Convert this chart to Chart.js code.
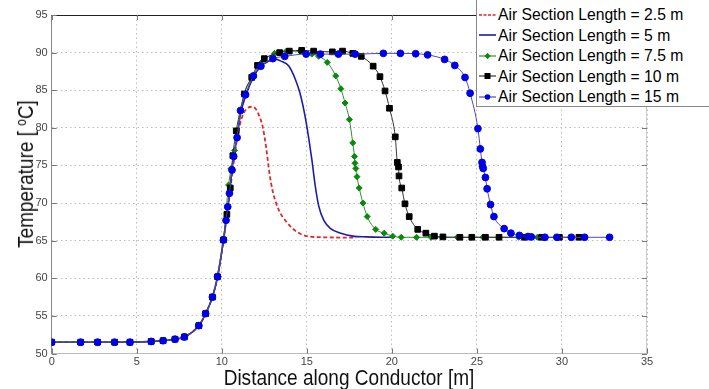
<!DOCTYPE html>
<html>
<head>
<meta charset="utf-8">
<script src="https://cdn.jsdelivr.net/npm/chart.js@4"></script>
<style>
  html, body { margin: 0; padding: 0; background: #fff; overflow: hidden; }
  #wrap { position: relative; width: 709px; height: 389px; overflow: hidden; }
  #chart { position: absolute; left: 0; top: 0; }
  .axtitle { position: absolute; font-family: "Liberation Sans", Arial, sans-serif; font-size: 22px; color: #111; white-space: nowrap; line-height: 22px; }
  #xtitle { left: 349px; top: 367px; transform: translateX(-50%) scaleX(0.865); }
  #ytitle { left: 26px; top: 174px; transform: translate(-50%, -50%) rotate(-90deg) scaleX(0.86); }
  #ytitle sup { font-size: 14px; vertical-align: 7px; line-height: 0; }
  #legend { position: absolute; left: 476px; top: -1px; width: 250px; height: 108px; border: 1px solid #888; background: #fff;
            font-family: "Liberation Sans", Arial, sans-serif; font-size: 15.7px; color: #000; box-sizing: border-box; padding-top: 5px; }
  #legend .row { height: 20.5px; line-height: 20.5px; white-space: nowrap; }
  #legend svg { vertical-align: middle; margin-left: 2px; margin-right: 2px; position: relative; top: -1px; }
</style>
</head>
<body>
<div id="wrap">
  <canvas id="chart" width="709" height="389"></canvas>
  <div id="ytitle" class="axtitle">Temperature [ <sup>o</sup>C]</div>
  <div id="xtitle" class="axtitle">Distance along Conductor [m]</div>
  <div id="legend"></div>
</div>
<script>
// distance along conductor [m] and temperature [degC]
const x25 = [0, 2, 4, 5.8, 7.25, 7.8, 8.65, 9.05, 9.45, 9.75, 10.1, 10.45, 10.65, 10.85, 11.05, 11.3, 11.5, 11.75, 12.0, 12.2, 12.4, 12.6, 12.8, 13.0, 13.35, 13.8, 14.4, 15.0, 16.0, 17.9]
const t25 = [51.5, 51.5, 51.5, 51.6, 51.9, 52.2, 53.7, 55.3, 57.5, 60.2, 65.0, 71.0, 74.5, 77.8, 80.3, 82.0, 82.6, 82.8, 82.5, 81.6, 80.2, 77.5, 74.0, 71.5, 69.1, 67.5, 66.2, 65.6, 65.45, 65.4]

const x5 = [0, 2, 4, 5.8, 7.25, 7.8, 8.65, 9.05, 9.45, 9.75, 10.1, 10.45, 10.7, 10.9, 11.1, 11.4, 11.85, 12.3, 12.7, 13.2, 13.45, 13.95, 14.3, 14.6, 14.9, 15.1, 15.3, 15.5, 15.7, 16.0, 16.4, 17.0, 17.7, 18.5, 20.0]
const t5 = [51.5, 51.5, 51.5, 51.6, 51.9, 52.2, 53.7, 55.3, 57.5, 60.2, 65.1, 71.3, 76.2, 78.7, 81.8, 84.2, 86.7, 88.2, 88.8, 89.1, 88.9, 88.2, 86.6, 84.6, 81.5, 78.8, 75.7, 72.2, 69.6, 67.7, 66.6, 66.0, 65.6, 65.5, 65.45]

const x75 = [0, 1.7, 2.7, 3.7, 4.6, 5.85, 6.55, 7.25, 7.8, 8.65, 9.05, 9.45, 9.75, 10.1, 10.4, 10.55, 10.75, 11.3, 11.8, 12.3, 13.1, 13.8, 14.6, 15.3, 15.7, 16.2, 16.7, 17.0, 17.25, 17.5, 17.7, 17.8, 17.83, 17.88, 17.95, 18.08, 18.3, 18.55, 19.05, 19.55, 20.05, 20.55, 21.45, 22.3, 23.85, 25.35, 27.45, 28.55]
const t75 = [51.5, 51.5, 51.5, 51.5, 51.5, 51.6, 51.7, 51.9, 52.2, 53.7, 55.3, 57.5, 60.2, 65.1, 72.4, 74.6, 77.0, 84.4, 86.8, 88.6, 89.9, 90.2, 90.2, 89.8, 89.5, 88.7, 86.9, 85.2, 83.3, 81.1, 78.0, 76.2, 75.3, 74.6, 73.5, 72.0, 70.0, 68.2, 66.5, 66.0, 65.6, 65.45, 65.45, 65.45, 65.45, 65.45, 65.45, 65.45]

const x10 = [0, 1.7, 2.7, 3.7, 4.6, 5.85, 6.55, 7.25, 7.8, 8.65, 9.05, 9.45, 9.75, 10.1, 10.3, 10.5, 10.65, 10.85, 11.33, 11.76, 12.1, 12.5, 13.4, 13.97, 14.7, 15.4, 16.5, 17.1, 17.7, 18.2, 18.9, 19.3, 19.6, 19.86, 20.2, 20.32, 20.39, 20.42, 20.58, 20.77, 21.02, 21.52, 22.0, 22.5, 23.0, 24.0, 24.7, 25.5, 26.3, 27.8, 28.8, 29.85, 31.0]
const t10 = [51.5, 51.5, 51.5, 51.5, 51.5, 51.6, 51.7, 51.9, 52.2, 53.7, 55.3, 57.5, 60.2, 65.1, 68.5, 72.0, 76.3, 79.6, 84.5, 86.7, 88.3, 89.2, 90.0, 90.2, 90.3, 90.2, 90.1, 90.2, 89.9, 89.5, 88.2, 86.8, 84.9, 82.6, 78.8, 75.4, 74.8, 73.6, 72.0, 69.9, 68.2, 66.5, 66.0, 65.6, 65.5, 65.45, 65.45, 65.45, 65.45, 65.45, 65.45, 65.45, 65.45]

const x15 = [0, 1.7, 2.7, 3.7, 4.6, 5.85, 6.55, 7.25, 7.8, 8.65, 9.05, 9.45, 9.75, 10.1, 10.25, 10.35, 10.45, 10.6, 10.7, 10.9, 11.1, 11.4, 11.86, 12.3, 13.0, 13.7, 14.96, 15.8, 16.86, 17.84, 19.5, 20.5, 21.4, 22.1, 23.1, 23.7, 24.3, 24.6, 25.06, 25.2, 25.3, 25.33, 25.37, 25.5, 25.6, 25.8, 26.0, 26.6, 27.0, 27.5, 28.0, 28.2, 29.0, 29.7, 30.55, 31.33, 32.8]
const t15 = [51.5, 51.5, 51.5, 51.5, 51.5, 51.6, 51.7, 51.9, 52.2, 53.7, 55.3, 57.5, 60.2, 65.1, 67.7, 69.5, 71.3, 74.4, 76.2, 78.7, 82.3, 84.4, 86.9, 88.2, 89.2, 89.5, 89.8, 89.8, 89.8, 89.8, 89.9, 89.9, 89.85, 89.7, 89.1, 88.3, 86.7, 84.6, 79.9, 77.2, 75.4, 74.9, 74.6, 73.4, 71.9, 69.8, 68.2, 66.6, 66.0, 65.7, 65.55, 65.5, 65.45, 65.45, 65.45, 65.45, 65.45]

const labels = ["Air Section Length = 2.5 m", "Air Section Length = 5 m", "Air Section Length = 7.5 m", "Air Section Length = 10 m", "Air Section Length = 15 m"]
const xTicks = [0, 5, 10, 15, 20, 25, 30, 35]
const yTicks = [50, 55, 60, 65, 70, 75, 80, 85, 90, 95]

function pts(xs, ys) { return xs.map((v, i) => ({x: v, y: ys[i]})) }

const series = [
  {label: labels[0], data: pts(x25, t25), borderColor: "#e02a2a", borderWidth: 1.8, borderDash: [4, 2.5], pointRadius: 0, pointStyle: false, order: 5, mk: null},
  {label: labels[1], data: pts(x5, t5), borderColor: "#1c1ca6", borderWidth: 1.6, pointRadius: 0, pointStyle: false, order: 4, mk: null},
  {label: labels[2], data: pts(x75, t75), borderColor: "#2f8f2f", borderWidth: 1, pointStyle: "rectRot", pointRadius: 3, backgroundColor: "#0a8a0a", pointBorderColor: "#0a8a0a", order: 3, mk: "diamond"},
  {label: labels[3], data: pts(x10, t10), borderColor: "#333", borderWidth: 1, pointStyle: "rect", pointRadius: 4, backgroundColor: "#000", pointBorderColor: "#000", order: 2, mk: "square"},
  {label: labels[4], data: pts(x15, t15), borderColor: "#4a4ab8", borderWidth: 1, pointStyle: "circle", pointRadius: 3.4, backgroundColor: "#0000e6", pointBorderColor: "#0000e6", order: 1, mk: "circle"}
]

// legend (html so the text stays text)
const leg = document.getElementById("legend")
series.forEach(s => {
  let svg = '<svg width="17" height="10" viewBox="0 0 17 10">'
  const dash = s.borderDash ? ' stroke-dasharray="3,1.5"' : ''
  svg += `<line x1="0" y1="5" x2="17" y2="5" stroke="${s.borderColor}" stroke-width="${s.borderWidth > 1 ? 1.6 : 1.2}"${dash}/>`
  if (s.mk == "circle") svg += `<circle cx="8.5" cy="5" r="2.8" fill="${s.backgroundColor}"/>`
  if (s.mk == "square") svg += `<rect x="5.5" y="2" width="6" height="6" fill="#000"/>`
  if (s.mk == "diamond") svg += `<polygon points="8.5,1.8 11.5,5 8.5,8.2 5.5,5" fill="${s.backgroundColor}"/>`
  svg += '</svg>'
  const row = document.createElement("div")
  row.className = "row"
  row.innerHTML = svg + s.label
  leg.appendChild(row)
})

const frame = {
  id: "frame",
  afterDraw(chart) {
    const {ctx, chartArea: a, scales} = chart
    ctx.save()
    ctx.lineWidth = 1
    // top edge dark, right edge faint
    ctx.strokeStyle = "#222"
    ctx.beginPath(); ctx.moveTo(a.left, a.top + 0.5); ctx.lineTo(a.right, a.top + 0.5); ctx.stroke()
    ctx.strokeStyle = "#ccc"
    ctx.beginPath(); ctx.moveTo(a.right - 0.5, a.top); ctx.lineTo(a.right - 0.5, a.bottom); ctx.stroke()
    // inward tick marks
    ctx.strokeStyle = "#777"
    ctx.beginPath()
    xTicks.forEach(v => {
      const p = Math.round(scales.x.getPixelForValue(v)) + 0.5
      ctx.moveTo(p, a.bottom); ctx.lineTo(p, a.bottom - 5)
      ctx.moveTo(p, a.top); ctx.lineTo(p, a.top + 5)
    })
    yTicks.forEach(v => {
      const p = Math.round(scales.y.getPixelForValue(v)) + 0.5
      ctx.moveTo(a.left, p); ctx.lineTo(a.left + 5, p)
      ctx.moveTo(a.right, p); ctx.lineTo(a.right - 5, p)
    })
    ctx.stroke()
    ctx.restore()
  }
}

const tickFont = {family: "'Liberation Sans', Arial, sans-serif", size: 11}

new Chart(document.getElementById("chart"), {
  type: "line",
  data: {datasets: series},
  options: {
    responsive: false,
    animation: false,
    devicePixelRatio: 1,
    layout: {padding: {left: 0, right: 62, top: 15, bottom: 0}},
    elements: {line: {cubicInterpolationMode: "monotone"}},
    plugins: {legend: {display: false}, tooltip: {enabled: false}},
    scales: {
      x: {
        type: "linear", min: 0, max: 35,
        afterBuildTicks: s => { s.ticks = xTicks.map(v => ({value: v})) },
        afterFit: s => { s.height = 35.5 },
        ticks: {font: tickFont, color: "#444", padding: 2, maxRotation: 0},
        grid: {color: "#bdbdbd", lineWidth: 1, drawTicks: false},
        border: {display: true, color: "#bbb", dash: [1.5, 3]}
      },
      y: {
        type: "linear", min: 50, max: 95,
        afterBuildTicks: s => { s.ticks = yTicks.map(v => ({value: v})) },
        afterFit: s => { s.width = 51.7 },
        ticks: {font: tickFont, color: "#444", padding: 4},
        grid: {color: "#bdbdbd", lineWidth: 1, drawTicks: false},
        border: {display: true, color: "#888", dash: [1.5, 3]}
      }
    }
  },
  plugins: [frame]
})
</script>
</body>
</html>
